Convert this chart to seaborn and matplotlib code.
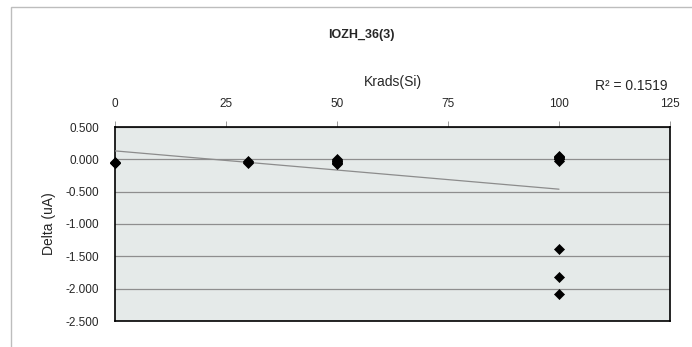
import numpy as np
import pandas as pd
import matplotlib
matplotlib.use("Agg")
import matplotlib.pyplot as plt
import seaborn as sns
from matplotlib.patches import Rectangle

# data
dose_0 = [-0.05, -0.06, -0.04]
dose_30 = [-0.03, -0.05, -0.04]
dose_50 = [0.01, -0.01, -0.02, -0.03, -0.04, -0.05, -0.06, -0.07]
dose_100 = [0.05, 0.04, 0.03, 0.02, 0.01, 0.00, -0.02, -1.38, -1.82, -2.08]
x_ticks = [0, 25, 50, 75, 100, 125]
y_ticks = [0.5, 0.0, -0.5, -1.0, -1.5, -2.0, -2.5]
r2_text = "R² = 0.1519"

krads = [0] * len(dose_0) + [30] * len(dose_30) + [50] * len(dose_50) + [100] * len(dose_100)
delta = dose_0 + dose_30 + dose_50 + dose_100
df = pd.DataFrame({"Krads(Si)": krads, "Delta (uA)": delta})

sns.set_style("white")
plt.rcParams["font.family"] = ["Liberation Sans", "DejaVu Sans"]

fig = plt.figure(figsize=(6.92, 3.47), dpi=100)
ax = fig.add_axes([115 / 692, 1 - 321 / 347, 555 / 692, 194 / 347])

# outer chart frame
fig.patches.append(Rectangle((11 / 692, -0.1), 1.2, 1 - 7 / 347 + 0.1, transform=fig.transFigure,
                             fill=False, edgecolor="#bdbdbd", linewidth=1))

ax.set_facecolor("#e5eae9")
sns.regplot(data=df, x="Krads(Si)", y="Delta (uA)", ax=ax, ci=None, truncate=True,
            marker="D", scatter_kws={"s": 26, "color": "black", "edgecolors": "black", "linewidths": 0.5,
                                      "alpha": 1, "zorder": 4, "clip_on": False},
            line_kws={"color": "#8c8c8c", "linewidth": 0.9, "zorder": 3})

ax.set_xlim(0, 125)
ax.set_ylim(-2.5, 0.5)
ax.set_xticks(x_ticks)
ax.set_yticks(y_ticks)
ax.set_yticklabels([f"{v:.3f}" for v in y_ticks])
ax.xaxis.tick_top()
ax.xaxis.set_label_position("top")
ax.tick_params(axis="x", top=True, length=4, width=0.6, color="#888888", labelsize=8.5, pad=8)
ax.tick_params(axis="y", left=False, labelsize=8.5, pad=8)
ax.yaxis.grid(True, color="#8e8e8e", linewidth=0.9)
ax.xaxis.grid(False)
ax.set_axisbelow(True)
for s in ax.spines.values():
    s.set_color("black")
    s.set_linewidth(1.2)
    s.set_visible(True)

ax.set_xlabel("Krads(Si)", fontsize=10, labelpad=9)
ax.set_ylabel("Delta (uA)", fontsize=10, labelpad=7)
fig.text(361 / 692, 1 - 35 / 347, "IOZH_36(3)", fontsize=9, fontweight="bold",
         ha="center", va="center")
fig.text(631 / 692, 1 - 86 / 347, r2_text, fontsize=10, ha="center", va="center")

plt.savefig("out.png", dpi=100)
plt.close()
